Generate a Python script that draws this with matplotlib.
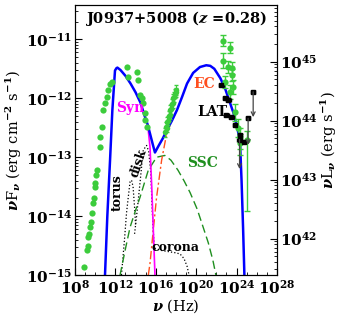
import numpy as np
import matplotlib
matplotlib.use('Agg')
import matplotlib.pyplot as plt
from matplotlib.ticker import NullFormatter, FixedLocator

plt.rcParams['font.family'] = 'DejaVu Serif'
plt.rcParams['font.weight'] = 'bold'
plt.rcParams['mathtext.fontset'] = 'custom'
plt.rcParams['mathtext.rm'] = 'DejaVu Serif:bold'
plt.rcParams['mathtext.it'] = 'DejaVu Serif:italic:bold'
plt.rcParams['mathtext.bf'] = 'DejaVu Serif:bold'

# log10(nu), log10(nuFnu)
radio_nu = [8.9, 9.2, 9.25, 9.3, 9.35, 9.5, 9.55, 9.7, 9.8, 9.85, 9.95, 10.0, 10.1, 10.15,
            10.48, 10.48, 10.64, 10.77, 10.97, 11.14, 11.27, 11.47, 11.66]
radio_f = [-14.86, -14.58, -14.5, -14.36, -14.3, -14.19, -14.1, -13.95, -13.78, -13.7, -13.5, -13.44, -13.3, -13.22,
           -12.83, -12.66, -12.49, -12.2, -12.08, -11.98, -11.86, -11.75, -11.73]
opt_nu = [13.15, 13.25, 14.14, 14.24, 14.44, 14.63, 14.73, 14.93, 14.93, 15.13]
opt_f = [-11.47, -11.64, -11.56, -11.69, -11.95, -12.0, -12.08, -12.25, -12.37, -12.49]
xray_nu = [16.95, 17.0, 17.1, 17.15, 17.25, 17.3, 17.4, 17.45, 17.55, 17.6, 17.7, 17.75, 17.85, 17.9, 18.0, 18.05]
xray_f = [-12.58, -12.48, -12.5, -12.4, -12.38, -12.3, -12.28, -12.2, -12.18, -12.1, -12.08, -12.0, -11.98, -11.92,
          -11.9, -11.86]
gam_nu = [22.65, 23.35, 22.65, 23.15, 23.55, 23.55, 22.85, 23.65, 23.35, 23.85, 24.14, 24.34, 25.0, 24.34]
gam_f = [-11.02, -11.14, -11.36, -11.47, -11.49, -11.61, -11.73, -11.81, -11.9, -12.24, -12.51, -12.66, -12.71, -12.76]
gam_elo = [0.1, 0.1, 0.12, 0.1, 0.1, 0.1, 0.1, 0.12, 0.12, 0.15, 0.15, 0.2, 1.2, 0.2]
gam_ehi = [0.1, 0.1, 0.12, 0.1, 0.1, 0.1, 0.1, 0.12, 0.12, 0.15, 0.15, 0.15, 0.15, 0.15]

lat_nu = [22.5, 22.9, 23.2, 23.0, 23.5, 23.85, 24.35, 24.7]
lat_f = [-11.78, -12.0, -12.03, -12.29, -12.32, -12.46, -12.63, -12.74]
ul_nu = [25.65, 25.15, 24.3]
ul_f = [-11.89, -12.34, -12.7]
ul_drop = [0.43, 0.45, 0.5]

# model curves
tot_nu = [10.97, 11.2, 11.47, 11.7, 11.96, 12.1, 12.2, 12.5, 13.0, 13.5, 14.0, 14.5, 14.9, 15.2, 15.43, 15.7, 15.92,
          16.3, 16.7, 17.1, 17.6, 18.1, 18.6, 19.1, 19.7, 20.38, 21.0, 21.4, 21.8, 22.4, 22.9, 23.3, 23.7, 24.0,
          24.34, 24.5, 24.65, 24.78]
tot_f = [-15.0, -14.0, -13.05, -12.2, -11.53, -11.49, -11.48, -11.52, -11.62, -11.75, -11.9, -12.08, -12.3, -12.45,
         -12.6, -12.78, -12.92, -12.8, -12.68, -12.54, -12.38, -12.2, -11.98, -11.75, -11.57, -11.47, -11.44, -11.45,
         -11.5, -11.66, -11.85, -12.05, -12.25, -12.45, -12.71, -13.4, -14.2, -15.0]
syn_nu = [15.2, 15.43, 15.6, 15.75, 15.92]
syn_f = [-12.45, -12.83, -13.5, -14.2, -15.0]
ec_nu = [15.26, 15.43, 15.75, 16.08, 16.58, 17.08, 17.6, 18.1]
ec_f = [-15.0, -14.8, -14.24, -13.68, -13.05, -12.6, -12.38, -12.2]
ssc_nu = [12.46, 13.0, 13.45, 14.0, 14.44, 15.26, 16.08, 16.9, 17.5, 18.2, 18.8, 19.4, 20.1, 20.7, 21.2, 21.66, 21.96]
ssc_f = [-15.0, -14.55, -14.19, -13.9, -13.68, -13.22, -13.0, -12.97, -13.05, -13.22, -13.4, -13.6, -13.88, -14.19,
         -14.45, -14.75, -15.0]
torus_nu = [12.6, 12.9, 13.1, 13.28, 13.45, 13.6, 13.75, 13.9, 14.0]
torus_f = [-15.0, -14.4, -13.95, -13.67, -13.42, -13.39, -13.5, -13.85, -14.15]
disk_nu = [13.9, 14.1, 14.4, 14.76, 15.09, 15.3, 15.5, 15.65, 15.8, 15.9]
disk_f = [-14.3, -14.0, -13.5, -12.88, -12.8, -12.9, -13.25, -13.9, -14.4, -14.55]
cor_nu = [15.9, 16.5, 17.2, 17.9, 18.4, 18.8, 19.1, 19.3, 19.45]
cor_f = [-14.55, -14.58, -14.6, -14.62, -14.64, -14.72, -14.85, -15.0, -15.2]

lum_offset = 56.38


def p(a):
    return 10 ** np.asarray(a, dtype=float)


def dex_err(vals, lo, hi):
    v = np.asarray(vals, dtype=float)
    return [p(v) - p(v - np.asarray(lo)), p(v + np.asarray(hi)) - p(v)]


def log_minors(lo, hi):
    return [m * 10.0 ** k for k in range(lo, hi) for m in range(2, 10)]


fig = plt.figure(figsize=(3.41, 3.21), dpi=100)
ax = fig.add_axes([0.22, 0.143, 0.592, 0.841])
ax.set_xscale('log')
ax.set_yscale('log')

ax.plot(p(torus_nu), p(torus_f), ':', color='black', lw=0.9)
ax.plot(p(disk_nu), p(disk_f), ':', color='black', lw=0.9)
ax.plot(p(cor_nu), p(cor_f), ':', color='black', lw=0.9)
ax.plot(p(ssc_nu), p(ssc_f), '--', color='#1f8f1f', lw=1.0, dashes=(6, 3))
ax.plot(p(ec_nu), p(ec_f), '-.', color='#ff4f1f', lw=1.0, dashes=(6, 2, 1.5, 2))
ax.plot(p(syn_nu), p(syn_f), '-', color='magenta', lw=1.2)
ax.plot(p(tot_nu), p(tot_f), '-', color='blue', lw=1.8)

green = '#3ccc3c'
ax.plot(p(radio_nu), p(radio_f), 'o', color=green, ms=4.5, mec='none')
ax.plot(p(opt_nu), p(opt_f), 'o', color=green, ms=4.5, mec='none')
ax.errorbar(p(xray_nu), p(xray_f), yerr=dex_err(xray_f, 0.08, 0.08), fmt='o', color=green, ms=4,
            mec='none', elinewidth=0.8, capsize=1.5)
ax.errorbar(p(gam_nu), p(gam_f), yerr=dex_err(gam_f, gam_elo, gam_ehi), fmt='o', color=green, ms=4.5,
            mec='none', elinewidth=1.0, capsize=2.5)

ax.errorbar(p(lat_nu), p(lat_f), xerr=dex_err(lat_nu, 0.22, 0.22), fmt='s',
            color='black', ms=3.2, elinewidth=1.2, capsize=1.5)
ax.errorbar(p(ul_nu), p(ul_f), xerr=dex_err(ul_nu, 0.22, 0.22), fmt='s',
            color='black', ms=3.2, elinewidth=1.2, capsize=1.5)
for n, f, d in zip(ul_nu, ul_f, ul_drop):
    ax.annotate('', xy=(p(n), p(f - d)), xytext=(p(n), p(f)),
                arrowprops=dict(arrowstyle='->', color='#444444', lw=0.9, shrinkA=0, shrinkB=0,
                                mutation_scale=7))

ax.set_xlim(1e8, 1e28)
ax.set_ylim(1e-15, 10 ** -10.42)
ax.xaxis.set_major_locator(FixedLocator([1e8, 1e12, 1e16, 1e20, 1e24, 1e28]))
ax.xaxis.set_minor_locator(FixedLocator([10.0 ** k for k in range(8, 29)]))
ax.xaxis.set_minor_formatter(NullFormatter())
ax.yaxis.set_major_locator(FixedLocator([1e-15, 1e-14, 1e-13, 1e-12, 1e-11]))
ax.yaxis.set_minor_locator(FixedLocator([v for v in log_minors(-15, -10) if v < 10 ** -10.42]))
ax.yaxis.set_minor_formatter(NullFormatter())
ax.tick_params(which='both', direction='in', labelsize=11, pad=2)
ax.tick_params(axis='x', pad=3)
ax.tick_params(which='major', length=5)
ax.tick_params(which='minor', length=2.5)
ax.tick_params(axis='y', right=False)

ax2 = ax.twinx()
ax2.set_yscale('log')
lo2, hi2 = -15 + lum_offset, -10.42 + lum_offset
ax2.set_ylim(10 ** lo2, 10 ** hi2)
ax2.yaxis.set_major_locator(FixedLocator([1e42, 1e43, 1e44, 1e45]))
ax2.yaxis.set_minor_locator(FixedLocator([v for v in log_minors(41, 46) if 10 ** lo2 < v < 10 ** hi2]))
ax2.yaxis.set_minor_formatter(NullFormatter())
ax2.tick_params(which='both', direction='in', labelsize=11, pad=2)
ax2.tick_params(which='major', length=5)
ax2.tick_params(which='minor', length=2.5)

ax.set_xlabel(r'$\nu$ (Hz)', fontsize=10.5, labelpad=0)
ax.set_ylabel(r'$\nu$F$_\nu$ (erg cm$^{-2}$ s$^{-1}$)', fontsize=10.5, labelpad=1)
ax2.set_ylabel(r'$\nu$L$_\nu$ (erg s$^{-1}$)', fontsize=10.5, labelpad=1)

ax.text(0.5, 0.952, r'J0937+5008 ($z$ =0.28)', transform=ax.transAxes, ha='center', va='center',
        fontsize=10.5, fontweight='bold')
ax.text(p(12.1), p(-12.17), 'Syn', color='magenta', fontsize=10, fontweight='bold', va='center')
ax.text(p(19.7), p(-11.75), 'EC', color='#ff4f1f', fontsize=10, fontweight='bold', va='center')
ax.text(p(20.1), p(-12.24), 'LAT', color='black', fontsize=10, fontweight='bold', va='center')
ax.text(p(19.1), p(-13.1), 'SSC', color='#1f8f1f', fontsize=10, fontweight='bold', va='center')
ax.text(p(12.2), p(-13.6), 'torus', color='black', fontsize=9, fontweight='bold', va='center',
        ha='center', rotation=90)
ax.text(p(14.3), p(-13.1), 'disk', color='black', fontsize=9, fontweight='bold', va='center',
        ha='center', rotation=72)
ax.text(p(15.6), p(-14.53), 'corona', color='black', fontsize=9, fontweight='bold', va='center')

fig.savefig('out.png', dpi=100)
